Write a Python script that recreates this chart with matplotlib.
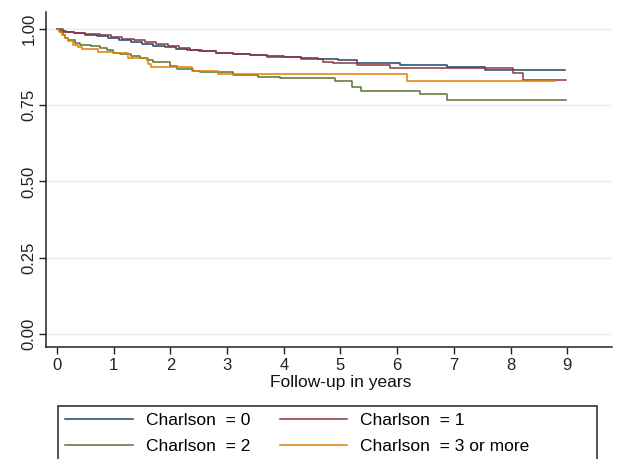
import matplotlib
matplotlib.use("Agg")
import matplotlib.pyplot as plt
from matplotlib.patches import Rectangle

plt.rcParams['font.family'] = ['Liberation Sans', 'DejaVu Sans']

# Kaplan-Meier style steps (time in years, survival)
c0_t = [0, 0.05, 0.15, 0.3, 0.5, 0.7, 0.9, 1.1, 1.3, 1.5, 1.7, 1.9, 2.1, 2.3, 2.5, 2.8, 3.1, 3.4, 3.7, 4.0, 4.3, 4.6, 4.95, 5.3, 6.05, 6.88, 7.55, 8.96]
c0_s = [1.0, 0.994, 0.990, 0.986, 0.981, 0.976, 0.970, 0.964, 0.958, 0.952, 0.946, 0.941, 0.936, 0.931, 0.927, 0.923, 0.919, 0.915, 0.911, 0.908, 0.904, 0.901, 0.897, 0.889, 0.882, 0.876, 0.867, 0.867]

c1_t = [0, 0.1, 0.3, 0.5, 0.75, 0.95, 1.15, 1.35, 1.55, 1.75, 1.95, 2.15, 2.35, 2.55, 2.8, 3.1, 3.4, 3.7, 4.0, 4.3, 4.7, 4.87, 5.29, 5.87, 8.04, 8.22, 8.98]
c1_s = [1.0, 0.992, 0.988, 0.984, 0.979, 0.974, 0.969, 0.963, 0.957, 0.950, 0.944, 0.938, 0.932, 0.927, 0.922, 0.918, 0.914, 0.910, 0.907, 0.903, 0.893, 0.888, 0.882, 0.871, 0.857, 0.834, 0.834]

c2_t = [0, 0.05, 0.1, 0.14, 0.2, 0.32, 0.41, 0.6, 0.76, 0.88, 0.99, 1.11, 1.3, 1.46, 1.59, 1.69, 1.99, 2.12, 2.4, 2.52, 3.1, 3.55, 3.93, 4.9, 5.2, 5.36, 6.4, 6.88, 8.98]
c2_s = [1.0, 0.989, 0.980, 0.970, 0.964, 0.953, 0.948, 0.944, 0.937, 0.930, 0.922, 0.917, 0.912, 0.905, 0.900, 0.893, 0.878, 0.868, 0.862, 0.858, 0.849, 0.844, 0.838, 0.830, 0.809, 0.798, 0.787, 0.767, 0.767]

c3_t = [0, 0.03, 0.09, 0.14, 0.2, 0.28, 0.37, 0.44, 0.72, 1.0, 1.25, 1.6, 1.66, 2.38, 2.84, 6.17, 8.78]
c3_s = [1.0, 0.990, 0.980, 0.970, 0.960, 0.948, 0.940, 0.933, 0.925, 0.920, 0.905, 0.885, 0.875, 0.861, 0.852, 0.831, 0.831]

labels = ["Charlson  = 0", "Charlson  = 1", "Charlson  = 2", "Charlson  = 3 or more"]
colors = ["#1a476f", "#90353b", "#55752f", "#e37e00"]
x_ticks = [0, 1, 2, 3, 4, 5, 6, 7, 8, 9]
y_ticks = [0.0, 0.25, 0.5, 0.75, 1.0]

fig = plt.figure(figsize=(6.21, 4.59), dpi=100)
ax = fig.add_axes([46/621, 1 - 347/459, 566/621, 335/459])

series = [(c0_t, c0_s), (c1_t, c1_s), (c2_t, c2_s), (c3_t, c3_s)]
handles = []
for (t, s), lab, col in zip(series, labels, colors):
    h, = ax.step(t, s, where='post', color=col, lw=1.1, label=lab)
    handles.append(h)

ax.set_xlim(-0.194, 9.79)
ax.set_ylim(-0.043, 1.056)
ax.set_xticks(x_ticks)
ax.set_yticks(y_ticks)
ax.set_yticklabels(["%.2f" % v for v in y_ticks], rotation=90, va='center')
ax.grid(axis='y', color='#e6eef1', lw=1)
ax.set_axisbelow(True)
for sp in ['top', 'right']:
    ax.spines[sp].set_visible(False)
for sp in ['left', 'bottom']:
    ax.spines[sp].set_color('#222222')
    ax.spines[sp].set_linewidth(1.1)
ax.tick_params(length=5, width=1, labelsize=12, colors='#222222', pad=3)
ax.tick_params(axis='y', pad=2)

fig.text(341/621, 1 - 383/459, "Follow-up in years", ha='center', va='center', fontsize=12.5, color='#111111')

# matplotlib fills legend columns first, so reorder to get 0,1 / 2,3 rows
order = [0, 2, 1, 3]
leg = fig.legend([handles[i] for i in order], [labels[i] for i in order],
                 ncol=2, loc='upper left', bbox_to_anchor=(58/621, 1 - 406/459),
                 frameon=False, fontsize=12.5, handlelength=3.9, handletextpad=0.75,
                 columnspacing=1.7, borderpad=0.4, labelspacing=0.6, borderaxespad=0)

# legend box runs past the bottom edge of the picture
fig.patches.append(Rectangle((58/621, 1 - 470/459), 539/621, 64/459, transform=fig.transFigure,
                             fill=False, edgecolor='#222222', lw=1.1))

fig.savefig("out.png", dpi=100)
